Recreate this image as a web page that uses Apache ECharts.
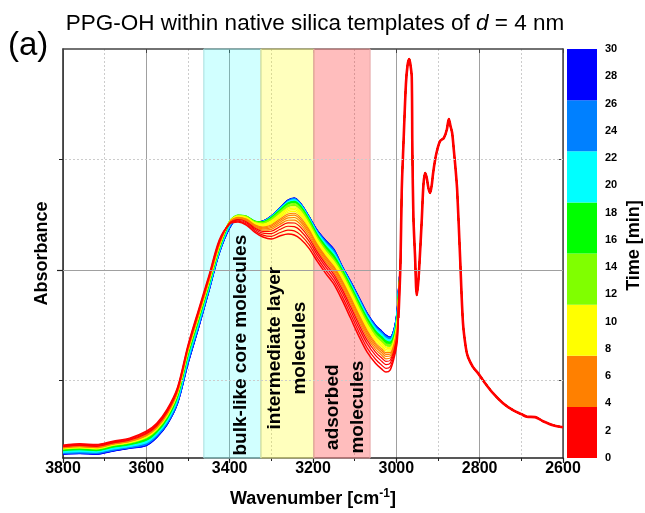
<!DOCTYPE html>
<html><head><meta charset="utf-8">
<script src="https://cdn.jsdelivr.net/npm/echarts@6/dist/echarts.min.js"></script>
<style>html,body{margin:0;padding:0;background:#fff}#c{width:645px;height:513px}</style>
</head><body><div id="c"></div>
<script>
// ---------------- data ----------------
// wavenumbers (cm-1) where the spectra still differ with time
const wnVar = [3800,3760,3720,3680,3640,3600,3575,3550,3525,3500,3475,3450,3425,3400,3380,3360,3340,3320,3300,3280,3260,3245,3230,3210,3190,3170,3150,3130,3110,3090,3070,3050,3035,3025,3015,3005,2998,2995];
// absorbance at t = 0 min (red, lowest in the middle)
const absT0 = [0.0416,0.0430,0.0421,0.0452,0.0480,0.0543,0.0615,0.0742,0.0941,0.1321,0.1638,0.1946,0.2271,0.2416,0.2434,0.2407,0.2344,0.2299,0.2281,0.2308,0.2326,0.2317,0.2281,0.2199,0.2081,0.1973,0.1873,0.1728,0.1566,0.1403,0.1258,0.1158,0.1104,0.1077,0.1095,0.1213,0.1348,0.1566];
// absorbance at t = 15 min (yellow-green)
const absT15 = [0.0380,0.0389,0.0380,0.0412,0.0434,0.0480,0.0552,0.0674,0.0878,0.1258,0.1566,0.1882,0.2208,0.2443,0.2498,0.2489,0.2443,0.2434,0.2471,0.2534,0.2597,0.2611,0.2570,0.2452,0.2308,0.2199,0.2109,0.1991,0.1846,0.1692,0.1547,0.1430,0.1376,0.1339,0.1330,0.1394,0.1547,0.1747];
// absorbance at t = 30 min (blue, highest in the middle)
const absT30 = [0.0335,0.0339,0.0335,0.0362,0.0387,0.0412,0.0485,0.0602,0.0792,0.1150,0.1470,0.1805,0.2150,0.2380,0.2462,0.2452,0.2434,0.2443,0.2489,0.2561,0.2633,0.2652,0.2606,0.2489,0.2362,0.2271,0.2190,0.2036,0.1900,0.1756,0.1611,0.1502,0.1448,0.1412,0.1394,0.1475,0.1638,0.1819];
// common part (all times overlap)
const tailWn  = [2990,2987,2983,2977,2973,2969,2966,2963,2961.5,2959,2955,2951,2948,2945,2939,2935,2931,2927,2923,2919,2915,2912,2907,2902,2895,2886,2879,2874,2870,2866,2862,2858,2854,2847,2840,2833,2828,2816,2804,2787,2768,2744,2720,2700,2687,2667,2648,2624,2600];
const tailAbs = [0.2072,0.2724,0.3131,0.3683,0.3855,0.3910,0.3855,0.3747,0.3086,0.2480,0.2118,0.1774,0.1864,0.2027,0.2452,0.2769,0.2878,0.2833,0.2742,0.2697,0.2769,0.2869,0.2995,0.3086,0.3167,0.3195,0.3267,0.3367,0.3303,0.3240,0.3086,0.2923,0.2724,0.2118,0.1520,0.1294,0.1213,0.1122,0.1068,0.0977,0.0887,0.0796,0.0733,0.0697,0.0674,0.0670,0.0633,0.0597,0.0579];
const minutes = [0,1,2,3,4,5,6,7,8,9,10,11,12,13,14,15,16,17,18,19,20,21,22,23,24,25,26,27,28,29,30];
const spacingEarly = [0,0.13,0.26,0.37,0.46,0.54,0.61,0.67,0.73,0.78,0.83,0.87,0.91,0.94,0.97,1]; // t 0..15, t0 -> t15
const spacingLate  = [0.1,0.2,0.29,0.38,0.46,0.54,0.61,0.68,0.74,0.8,0.85,0.9,0.94,0.97,1];   // t 16..30, t15 -> t30
// colour bar
const colorBounds = [0,3.75,7.5,11.25,15,18.75,22.5,26.25,30];
const palette = ['#FF0000','#FF8000','#FFFF00','#80FF00','#00FF00','#00FFFF','#0080FF','#0000FF'];
// shaded bands (cm-1)
const bandEdges = [[3462,3325],[3325,3198],[3198,3063]];
const bandFill = ['rgba(0,255,255,0.18)','rgba(255,255,0,0.26)','rgba(255,0,0,0.26)'];
const bandLine = ['#a8dede','#dede9a','#e6a8a8'];
const bandText = ['bulk-like core molecules','intermediate layer\nmolecules','adsorbed\nmolecules'];
const bandTextPos = [[3373,0.1321],[3261,0.1294],[3123,0.0760]];
// axis
const yGrid = [0.1,0.2,0.3];
// ------------------------------------------------------------

const FF = '"Liberation Sans", Arial, sans-serif';
function colorOf(t){
  for (let i=0;i<palette.length;i++){ if (t < colorBounds[i+1]) return palette[i]; }
  return palette[palette.length-1];
}
function curve(t){
  let a,b,w;
  if (t <= 15){ a=absT0; b=absT15; w=spacingEarly[t]; }
  else { a=absT15; b=absT30; w=spacingLate[t-16]; }
  const pts = wnVar.map((wn,i)=>[wn, a[i] + w*(b[i]-a[i])]);
  tailWn.forEach((wn,i)=>pts.push([wn, tailAbs[i]]));
  return pts;
}

const series = [];
series.push({
  type:'line', data:[], z:1, silent:true, xAxisIndex:0, yAxisIndex:0,
  markArea:{silent:true, data: bandEdges.map((e,i)=>[
    {xAxis:e[0], itemStyle:{color:bandFill[i], borderColor:bandLine[i], borderWidth:1}},
    {xAxis:e[1]}])},
  markLine:{silent:true, symbol:'none', animation:false, label:{show:false},
    data: yGrid.map(v=>({yAxis:v, lineStyle:{color: v===0.2?'#a0a0a0':'#cccccc', width:1, type: v===0.2?'solid':[2,2]}}))}
});
for (let k=minutes.length-1;k>=0;k--){
  const t = minutes[k];
  series.push({
    type:'line', name:'t'+t, data:curve(t), showSymbol:false, smooth:0.3, z:3,
    xAxisIndex:0, yAxisIndex:0, silent:true,
    lineStyle:{color:colorOf(t), width: t===0?1.5:1.2}
  });
}
// overlapping common part: all spectra coincide, the last drawn (t = 0, red) is on top
series.push({
  type:'line', name:'overlap', data: [[wnVar[wnVar.length-1], absT0[absT0.length-1]]].concat(tailWn.map((wn,i)=>[wn, tailAbs[i]])),
  showSymbol:false, smooth:0.3, z:4, silent:true, xAxisIndex:0, yAxisIndex:0,
  lineStyle:{color:colorOf(minutes[0]), width:2.6}
});
series.push({
  type:'scatter', xAxisIndex:0, yAxisIndex:0, symbolSize:0, z:10, silent:true,
  itemStyle:{opacity:1},
  data: bandTextPos.map((p,i)=>[p[0],p[1],bandText[i]]),
  label:{show:true, position:'inside', rotate:90, formatter:p=>p.value[2], opacity:1,
    fontFamily:FF, fontWeight:'bold', fontSize:19, lineHeight:25, color:'#000',
    textBorderWidth:0, align:'center', verticalAlign:'middle'}
});
for (let i=0;i<palette.length;i++){
  series.push({type:'bar', xAxisIndex:2, yAxisIndex:3, stack:'cb', barWidth:'100%', silent:true,
    data:[colorBounds[i+1]-colorBounds[i]], itemStyle:{color:palette[i], borderWidth:0}});
}

const chart = echarts.init(document.getElementById('c'), null, {renderer:'canvas'});
chart.setOption({
  animation:false,
  backgroundColor:'#fff',
  grid:[{left:63, top:49, width:500, height:409, outerBoundsMode:'none'},
        {left:567, top:49, width:30, height:409, outerBoundsMode:'none'}],
  xAxis:[
    {type:'value', gridIndex:0, min:2600, max:3800, interval:200, inverse:true, position:'bottom',
     axisLine:{show:true, onZero:false, lineStyle:{color:'#222', width:1.5}},
     axisTick:{show:true, length:5, lineStyle:{color:'#222', width:1.2}},
     minorTick:{show:true, splitNumber:2, length:3, lineStyle:{color:'#222'}},
     axisLabel:{fontFamily:FF, fontWeight:'bold', fontSize:16, color:'#000', margin:3, formatter:v=>String(v)},
     splitLine:{show:true, lineStyle:{color:'#a0a0a0', width:1}},
     minorSplitLine:{show:true, lineStyle:{color:'#cccccc', width:1, type:[2,2]}},
     name:'{a|Wavenumber [cm}{s|-1}{a|]}', nameLocation:'middle', nameGap:30,
     nameTextStyle:{rich:{a:{fontFamily:FF, fontWeight:'bold', fontSize:18, color:'#000', lineHeight:22},
                          s:{fontFamily:FF, fontWeight:'bold', fontSize:12, color:'#000', lineHeight:12, verticalAlign:'top'}}}},
    {type:'value', gridIndex:0, min:2600, max:3800, interval:200, inverse:true, position:'top',
     axisLine:{show:true, onZero:false, lineStyle:{color:'#444', width:1.5}},
     axisTick:{show:true, inside:true, length:4, lineStyle:{color:'#444'}},
     axisLabel:{show:false}, splitLine:{show:false}},
    {type:'category', gridIndex:1, data:['t'], show:false}
  ],
  yAxis:[
    {type:'value', gridIndex:0, min:0.03, max:0.4, position:'left',
     axisLine:{show:true, onZero:false, lineStyle:{color:'#222', width:1.5}},
     axisTick:{show:true, length:6, customValues:[yGrid[1]], lineStyle:{color:'#222', width:1.2}},
     axisLabel:{show:false}, splitLine:{show:false},
     name:'Absorbance', nameLocation:'middle', nameGap:12, nameRotate:90,
     nameTextStyle:{fontFamily:FF, fontWeight:'bold', fontSize:18, color:'#000'}},
    {type:'value', gridIndex:0, min:0.03, max:0.4, position:'left', offset:0,
     axisLine:{show:false}, axisTick:{show:true, length:4, customValues:[yGrid[0],yGrid[2]], lineStyle:{color:'#222'}},
     axisLabel:{show:false}, splitLine:{show:false}},
    {type:'value', gridIndex:0, min:0.03, max:0.4, position:'right',
     axisLine:{show:true, onZero:false, lineStyle:{color:'#444', width:1.5}},
     axisTick:{show:true, inside:true, length:4, customValues:yGrid, lineStyle:{color:'#444'}},
     axisLabel:{show:false}, splitLine:{show:false}},
    {type:'value', gridIndex:1, min:0, max:30, interval:2, position:'right',
     axisLine:{show:false}, axisTick:{show:false}, splitLine:{show:false},
     axisLabel:{fontFamily:FF, fontWeight:'bold', fontSize:11, color:'#000', margin:8, showMinLabel:true, showMaxLabel:true},
     name:'Time [min]', nameLocation:'middle', nameGap:28, nameRotate:90,
     nameTextStyle:{fontFamily:FF, fontWeight:'bold', fontSize:18, color:'#000', padding:[0,0,0,16]}}
  ],
  graphic:[
    {type:'text', x:8, y:46, style:{text:'(a)', font:'33px '+FF, fill:'#000', textVerticalAlign:'middle'}},
    {type:'text', x:315, y:24, style:{text:'{n|PPG-OH within native silica templates of }{i|d}{n| = 4 nm}',
      textAlign:'center', textVerticalAlign:'middle',
      rich:{n:{fontFamily:FF, fontSize:22.5, fill:'#000'}, i:{fontFamily:FF, fontSize:22.5, fontStyle:'italic', fill:'#000'}}}}
  ],
  series: series
});
</script></body></html>
